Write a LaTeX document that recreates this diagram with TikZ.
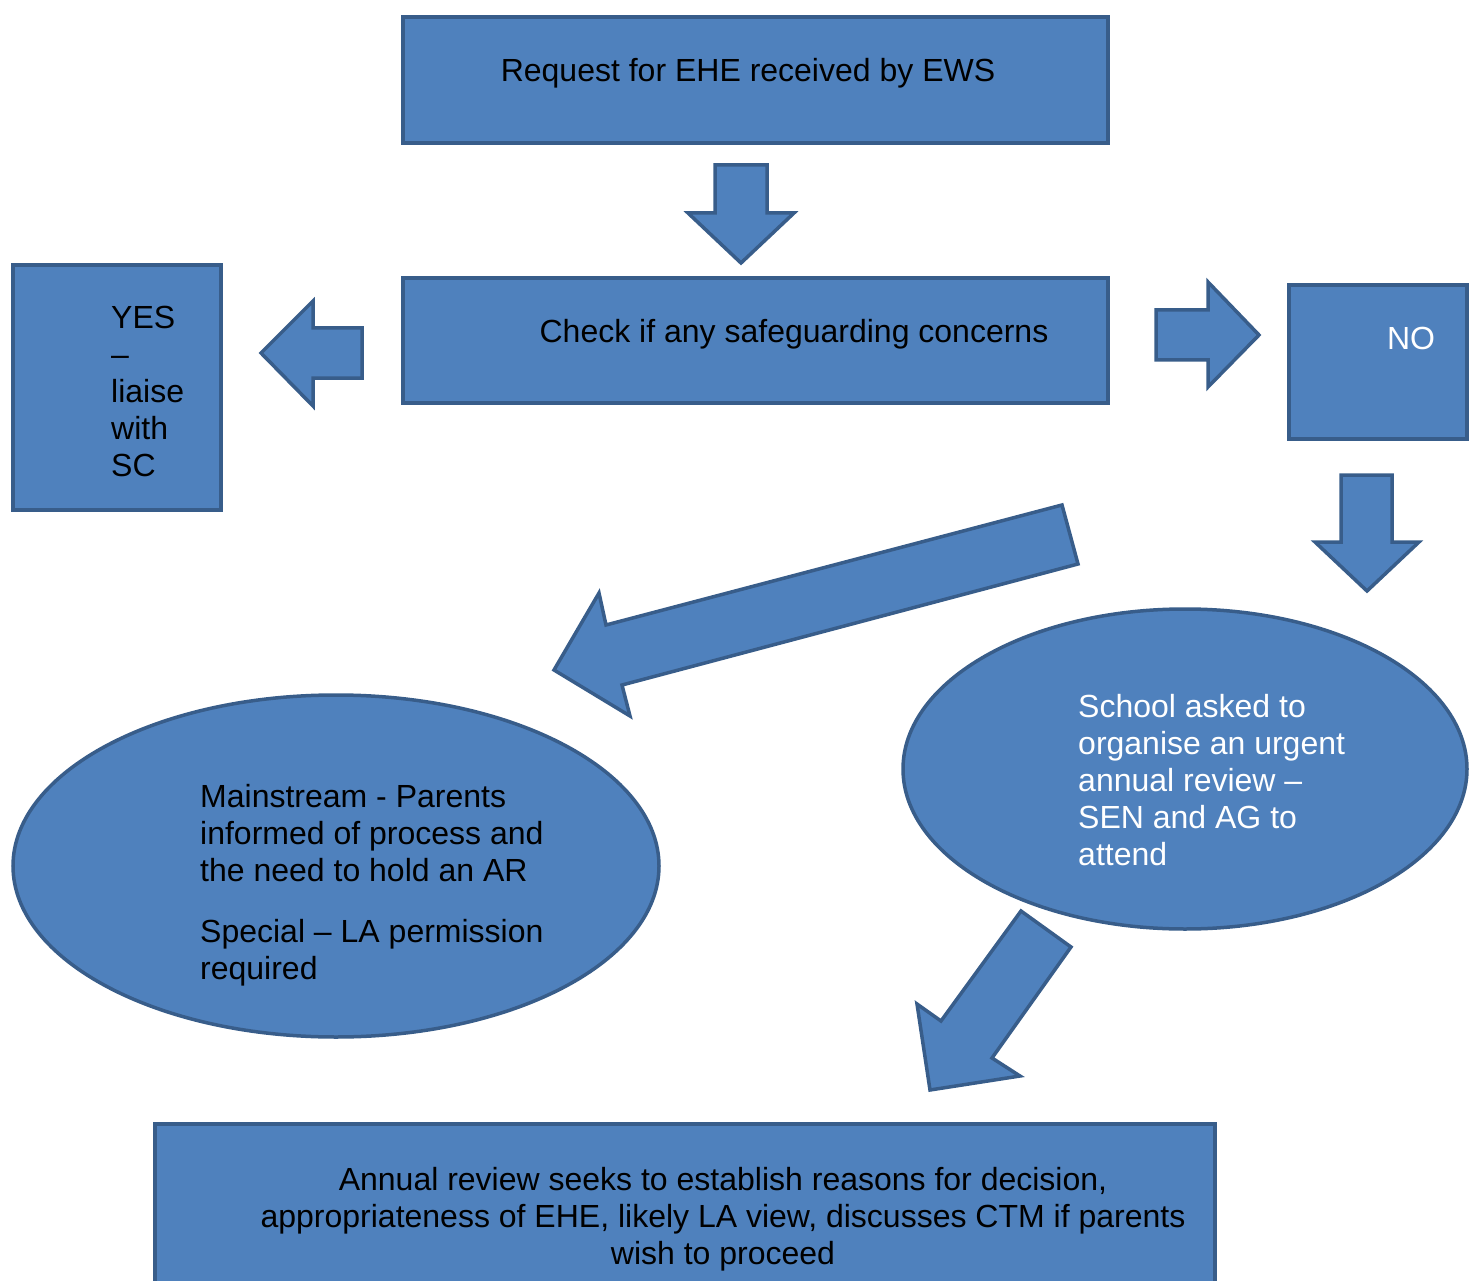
\documentclass[tikz,border=0pt]{standalone}
\usepackage{fontspec}
\setmainfont{Liberation Sans}
\usetikzlibrary{shapes.geometric}
\definecolor{boxfill}{HTML}{4F81BD}
\definecolor{boxline}{HTML}{385D8A}
\tikzset{
  shapestyle/.style={fill=boxfill, draw=boxline, line width=3.5pt, line join=miter},
  txt/.style={inner sep=0pt, font=\fontsize{32}{37}\selectfont},
}
\begin{document}
\begin{tikzpicture}[x=1pt,y=-1pt]
\useasboundingbox (0,0) rectangle (1481,1281);
\clip (0,0) rectangle (1481,1281);
% boxes
\draw[shapestyle] (403,17) rectangle (1108,143);
\draw[shapestyle] (403,278) rectangle (1108,403);
\draw[shapestyle] (13,265) rectangle (221,510);
\draw[shapestyle] (1289,285) rectangle (1467,439);
\draw[shapestyle] (155,1124) rectangle (1215,1320);
% ellipses
\draw[shapestyle] (336,866) ellipse [x radius=323, y radius=171];
\draw[shapestyle] (1185,769) ellipse [x radius=282, y radius=160];
% block arrows
\draw[shapestyle] (715,165) -- (767,165) -- (767,213) -- (794,213) -- (741,263) -- (688,213) -- (715,213) -- cycle;
\draw[shapestyle] (362,328) -- (313,328) -- (313,301) -- (261,353) -- (313,406) -- (313,378) -- (362,378) -- cycle;
\draw[shapestyle] (1156,310) -- (1208,310) -- (1208,282) -- (1259,335) -- (1208,387) -- (1208,360) -- (1156,360) -- cycle;
\draw[shapestyle] (1341,475) -- (1392,475) -- (1392,542) -- (1419,542) -- (1367,591) -- (1315,542) -- (1341,542) -- cycle;
\draw[shapestyle] (1062,505) -- (1078,564) -- (622,685) -- (630,716) -- (554,670) -- (599,593) -- (606,625) -- cycle;
\draw[shapestyle] (1021,911) -- (1071,947) -- (992,1058) -- (1020,1076) -- (930,1090) -- (917,1004) -- (941,1021) -- cycle;
% texts
\node[txt, anchor=base] (t1) at (748,82) {Request for EHE received by EWS};
\node[txt, anchor=base] (t2) at (794,342) {Check if any safeguarding concerns};
\node[txt, anchor=base, text=white] (t3) at (1411,350) {NO};
\node[txt, anchor=north west, align=left] (t4) at (111,306) {YES\\–\\liaise\\with\\SC};
\node[txt, anchor=north west, align=left] (t5) at (200,784) {Mainstream - Parents\\informed of process and\\the need to hold an AR\\[24pt]Special – LA permission\\required};
\node[txt, anchor=north west, align=left, text=white] (t6) at (1078,694) {School asked to\\organise an urgent\\annual review –\\SEN and AG to\\attend};
\node[txt, anchor=north, align=center] (t7) at (723,1167) {Annual review seeks to establish reasons for decision,\\appropriateness of EHE, likely LA view, discusses CTM if parents\\wish to proceed};
\end{tikzpicture}
\end{document}
